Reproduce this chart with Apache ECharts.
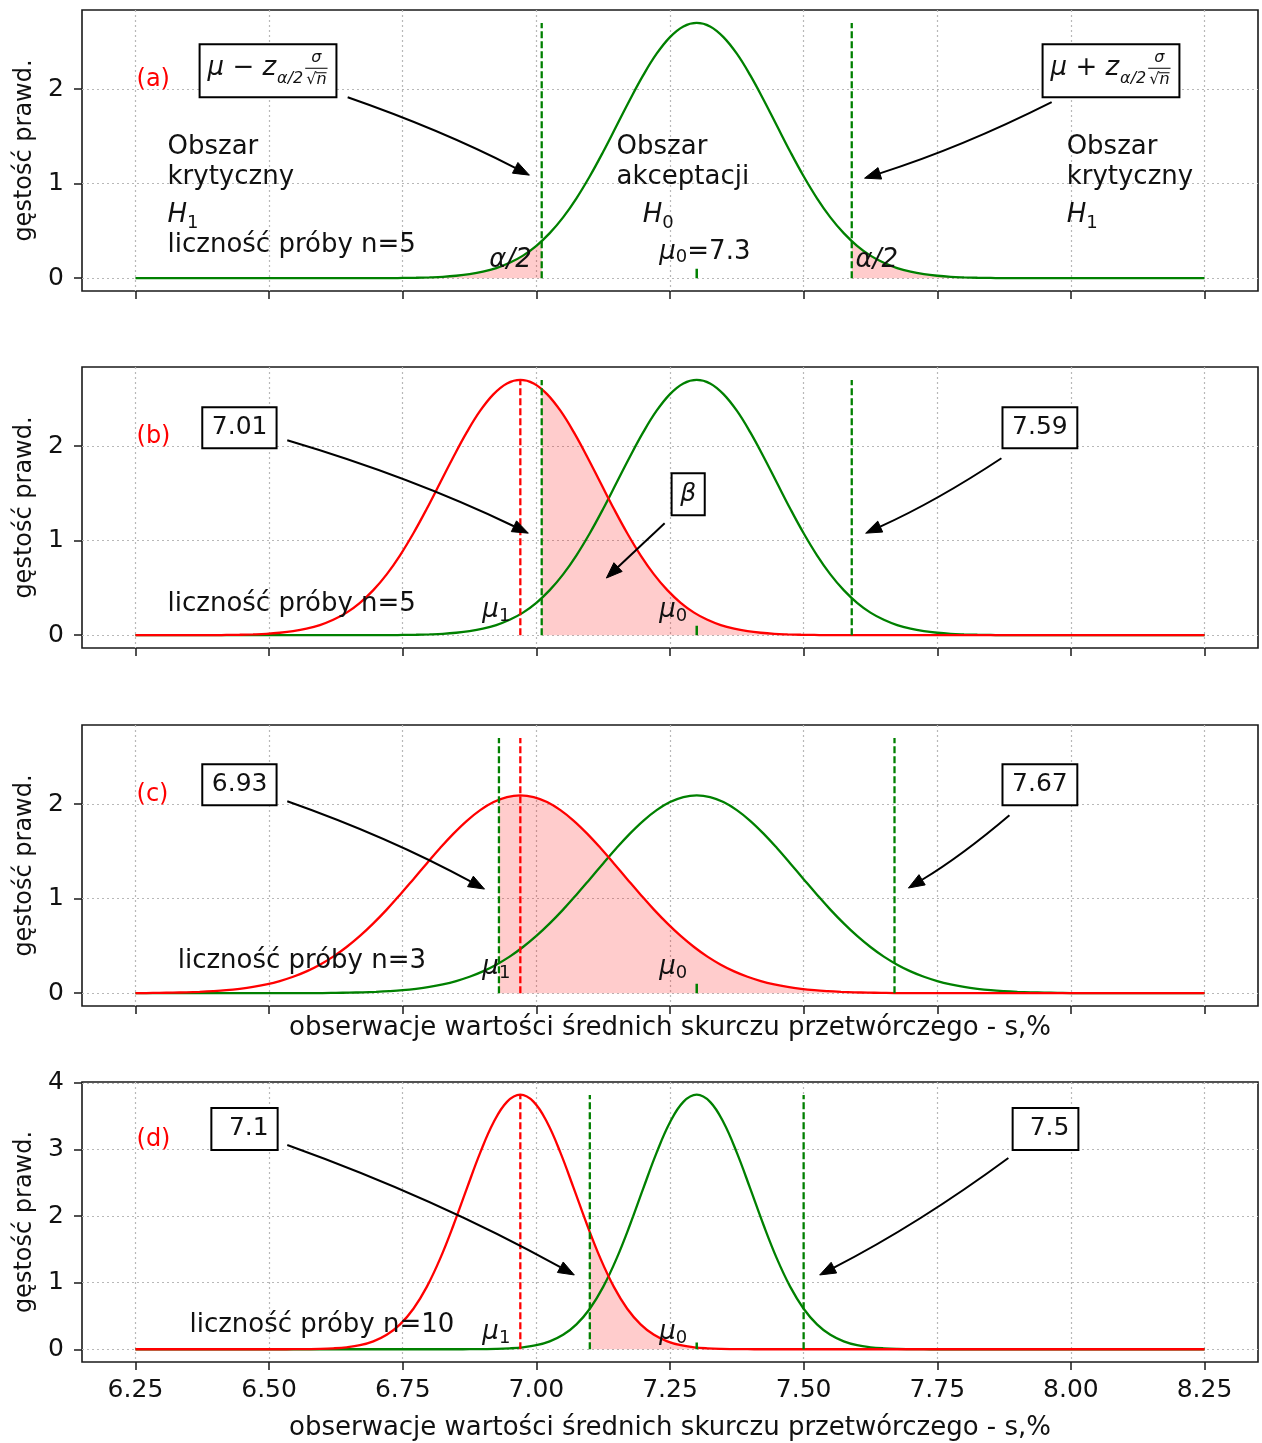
<!DOCTYPE html>
<html><head><meta charset="utf-8">
<script src="https://cdn.jsdelivr.net/npm/echarts@6/dist/echarts.min.js"></script>
<style>html,body{margin:0;padding:0;background:#fff}#c{width:1262px;height:1443px}</style>
</head><body><div id="c"></div>
<script>
// ---------------- data ----------------
const xTicks = [6.25, 6.5, 6.75, 7, 7.25, 7.5, 7.75, 8, 8.25];
const yTicksABC = [0, 1, 2];
const yTicksD = [0, 1, 2, 3, 4];
const mu0 = 7.3;          // H0 mean
const mu1 = 6.97;         // H1 mean
const tailX = [6.25, 8.25];
const offsets = [-0.75,-0.725,-0.7,-0.675,-0.65,-0.625,-0.6,-0.575,-0.55,-0.525,-0.5,-0.475,-0.45,-0.425,-0.4,-0.375,-0.35,-0.325,-0.3,-0.275,-0.25,-0.225,-0.2,-0.175,-0.15,-0.125,-0.1,-0.075,-0.05,-0.025,0,0.025,0.05,0.075,0.1,0.125,0.15,0.175,0.2,0.225,0.25,0.275,0.3,0.325,0.35,0.375,0.4,0.425,0.45,0.475,0.5,0.525,0.55,0.575,0.6,0.625,0.65,0.675,0.7,0.725,0.75];
const dens5 = [0,0,0,0,0,0,0.001,0.001,0.003,0.005,0.009,0.015,0.026,0.043,0.069,0.107,0.163,0.239,0.343,0.477,0.644,0.846,1.079,1.338,1.613,1.889,2.149,2.376,2.552,2.665,2.703,2.665,2.552,2.376,2.149,1.889,1.613,1.338,1.079,0.846,0.644,0.477,0.343,0.239,0.163,0.107,0.069,0.043,0.026,0.015,0.009,0.005,0.003,0.001,0.001,0,0,0,0,0,0];
const dens3 = [0.001,0.002,0.002,0.004,0.006,0.010,0.015,0.022,0.032,0.047,0.067,0.094,0.129,0.174,0.231,0.302,0.387,0.489,0.606,0.739,0.885,1.043,1.207,1.373,1.536,1.689,1.825,1.938,2.023,2.076,2.094,2.076,2.023,1.938,1.825,1.689,1.536,1.373,1.207,1.043,0.885,0.739,0.606,0.489,0.387,0.302,0.231,0.174,0.129,0.094,0.067,0.047,0.032,0.022,0.015,0.010,0.006,0.004,0.002,0.002,0.001];
const dens10 = [0,0,0,0,0,0,0,0,0,0,0,0,0,0.001,0.003,0.006,0.014,0.030,0.061,0.119,0.217,0.374,0.609,0.937,1.361,1.866,2.416,2.953,3.408,3.715,3.823,3.715,3.408,2.953,2.416,1.866,1.361,0.937,0.609,0.374,0.217,0.119,0.061,0.030,0.014,0.006,0.003,0.001,0,0,0,0,0,0,0,0,0,0,0,0,0];
const crit5 = [7.01, 7.59];
const crit3 = [6.93, 7.67];
const crit10 = [7.10, 7.50];
const edgeA = [0.392, 0.392];   // green n=5 density at crit5
const edgeB = [2.606, 0.0004];  // red n=5 density at crit5
const edgeC = [2.048, 0.002];   // red n=3 density at crit3
const edgeD = [1.760, 0];       // red n=10 density at crit10
const vTop = [2.70, 2.70, 2.70, 3.82];
const muTickTop = 0.1;
const boxLabels = [['7.01', '7.59'], ['6.93', '7.67'], ['7.1', '7.5']];
const sampleLabels = ['liczność próby n=5', 'liczność próby n=5', 'liczność próby n=3', 'liczność próby n=10'];

// ---------------- style ----------------
const FONT = 'DejaVu Sans';
const INK = '#111';
const GREEN = '#008000', RED = '#ff0000', FILL = 'rgba(255,0,0,0.2)';
const GRIDC = '#b8b8b8';
const FS = 26;
const gridPos = [[10, 281], [367, 281], [725, 281], [1082, 280]];
const yRange = [[-0.1352, 2.8385], [-0.1352, 2.8385], [-0.1352, 2.8385], [-0.1911, 4.0137]];

const chart = echarts.init(document.getElementById('c'), null, {renderer: 'canvas'});

function curve(mu, dens) {
  const pts = [];
  offsets.forEach((o, k) => {
    const x = +(mu + o).toFixed(4);
    if (x > tailX[0] && x < tailX[1]) pts.push([x, dens[k]]);
  });
  if (pts[0][0] > tailX[0]) pts.unshift([tailX[0], 0]);
  if (pts[pts.length - 1][0] < tailX[1]) pts.push([tailX[1], 0]);
  return pts;
}
function band(pts, x0, y0, x1, y1) {
  return [[x0, y0]].concat(pts.filter(p => p[0] > x0 + 1e-9 && p[0] < x1 - 1e-9), [[x1, y1]]);
}
const green5 = curve(mu0, dens5), red5 = curve(mu1, dens5);
const green3 = curve(mu0, dens3), red3 = curve(mu1, dens3);
const green10 = curve(mu0, dens10), red10 = curve(mu1, dens10);

const series = [];
const SM = 0.4;
function addLine(i, data, color, z) {
  series.push({type: 'line', xAxisIndex: i, yAxisIndex: i, data, symbol: 'none', smooth: SM, z, silent: true,
    lineStyle: {color, width: 2.3}});
}
function addBand(i, data) {
  series.push({type: 'line', xAxisIndex: i, yAxisIndex: i, data, symbol: 'none', smooth: SM, z: 1, silent: true,
    lineStyle: {width: 0, opacity: 0}, areaStyle: {color: FILL, opacity: 1}});
}
function addVLine(i, x, top, color) {
  series.push({type: 'line', xAxisIndex: i, yAxisIndex: i, data: [[x, 0], [x, top]], symbol: 'none', z: 4, silent: true,
    lineStyle: {color, width: 2.3, type: [7, 3]}});
}
function addMuTick(i) {
  series.push({type: 'line', xAxisIndex: i, yAxisIndex: i, data: [[mu0, 0], [mu0, muTickTop]], symbol: 'none', z: 4, silent: true,
    lineStyle: {color: GREEN, width: 2.5}});
}
// (a)
addBand(0, band(green5, tailX[0], 0, crit5[0], edgeA[0]));
addBand(0, band(green5, crit5[1], edgeA[1], tailX[1], 0));
addLine(0, green5, GREEN, 2);
addVLine(0, crit5[0], vTop[0], GREEN); addVLine(0, crit5[1], vTop[0], GREEN); addMuTick(0);
// (b)
addBand(1, band(red5, crit5[0], edgeB[0], crit5[1], edgeB[1]));
addLine(1, green5, GREEN, 2); addLine(1, red5, RED, 3);
addVLine(1, mu1, vTop[1], RED); addVLine(1, crit5[0], vTop[1], GREEN); addVLine(1, crit5[1], vTop[1], GREEN); addMuTick(1);
// (c)
addBand(2, band(red3, crit3[0], edgeC[0], crit3[1], edgeC[1]));
addLine(2, green3, GREEN, 2); addLine(2, red3, RED, 3);
addVLine(2, mu1, vTop[2], RED); addVLine(2, crit3[0], vTop[2], GREEN); addVLine(2, crit3[1], vTop[2], GREEN); addMuTick(2);
// (d)
addBand(3, band(red10, crit10[0], edgeD[0], crit10[1], edgeD[1]));
addLine(3, green10, GREEN, 2); addLine(3, red10, RED, 3);
addVLine(3, mu1, vTop[3], RED); addVLine(3, crit10[0], vTop[3], GREEN); addVLine(3, crit10[1], vTop[3], GREEN); addMuTick(3);

const XNAME = 'obserwacje wartości średnich skurczu przetwórczego - s,%';
const option = {
  animation: false,
  backgroundColor: '#fff',
  textStyle: {fontFamily: FONT},
  grid: gridPos.map(g => ({left: 82, width: 1176, top: g[0], height: g[1], show: true, borderColor: '#1a1a1a', borderWidth: 1.6,
    backgroundColor: 'transparent', containLabel: false, outerBoundsMode: 'none'})),
  xAxis: [0, 1, 2, 3].map(i => ({
    type: 'value', gridIndex: i, min: 6.15, max: 8.35,
    axisLine: {show: false, onZero: false},
    axisTick: {show: true, length: 8, customValues: xTicks, lineStyle: {color: '#1a1a1a', width: 1.5}},
    axisLabel: {show: i === 3, customValues: xTicks, formatter: v => v.toFixed(2), fontFamily: FONT, fontSize: 25, color: INK, margin: 16},
    splitLine: {show: true, lineStyle: {type: [2, 3], color: GRIDC, width: 1.2}},
    name: i >= 2 ? XNAME : '', nameLocation: 'middle', nameGap: i === 2 ? 9 : 53,
    nameTextStyle: {fontFamily: FONT, fontSize: FS, color: INK}
  })),
  yAxis: [0, 1, 2, 3].map(i => ({
    type: 'value', gridIndex: i, min: yRange[i][0], max: yRange[i][1],
    axisLine: {show: false, onZero: false},
    axisTick: {show: true, length: 8, customValues: i < 3 ? yTicksABC : yTicksD, lineStyle: {color: '#1a1a1a', width: 1.5}},
    axisLabel: {customValues: i < 3 ? yTicksABC : yTicksD, fontFamily: FONT, fontSize: 25, color: INK, margin: 18},
    splitLine: {show: true, lineStyle: {type: [2, 3], color: GRIDC, width: 1.2}},
    name: 'gęstość prawd.', nameLocation: 'middle', nameGap: 43,
    nameTextStyle: {fontFamily: FONT, fontSize: 24, color: INK}
  })),
  series
};
chart.setOption(option);

// ---------------- annotations ----------------
const toPx = (i, x, y) => chart.convertToPixel({xAxisIndex: i, yAxisIndex: i}, [x, y]);
const mctx = document.createElement('canvas').getContext('2d');
function tw(text, size, italic) {
  mctx.font = (italic ? 'italic ' : '') + size + 'px "DejaVu Sans"';
  return mctx.measureText(text).width;
}
function txt(x, y, text, o) {
  return {type: 'text', x, y, z: 101, silent: true,
    style: Object.assign({text, fontFamily: FONT, fontSize: FS, fill: INK, textAlign: 'left', align: 'left',
      textVerticalAlign: 'middle', verticalAlign: 'middle'}, o || {})};
}
// run of text parts (for italic symbols & subscripts), left-middle anchored at pixel p
function runPx(px, py, parts, color) {
  let cx = px; const out = [];
  parts.forEach(pt => {
    const size = pt.s || FS;
    out.push(txt(cx, py + (pt.dy || 0), pt.t, {fontSize: size, fontStyle: pt.i ? 'italic' : 'normal', fill: color || INK}));
    cx += tw(pt.t, size, pt.i) + (pt.gap || 0);
  });
  return out;
}
function run(i, x, y, parts, color) { const p = toPx(i, x, y); return runPx(p[0], p[1], parts, color); }
const SUB = 18, SDY = 8;
const H1 = [{t: 'H', i: true}, {t: '1', s: SUB, dy: SDY}];
const H0 = [{t: 'H', i: true}, {t: '0', s: SUB, dy: SDY}];
const M1 = [{t: 'μ', i: true}, {t: '1', s: SUB, dy: 6}];
const M0 = [{t: 'μ', i: true}, {t: '0', s: SUB, dy: 6}];
function T(i, x, y, text, o) { const p = toPx(i, x, y); return txt(p[0], p[1], text, o); }
function boxEl(i, x0, y0, x1, y1) {
  const a = toPx(i, x0, y0), b = toPx(i, x1, y1);
  return {type: 'rect', z: 99, silent: true, shape: {x: a[0], y: a[1], width: b[0] - a[0], height: b[1] - a[1]},
    style: {fill: '#fff', stroke: '#000', lineWidth: 2}};
}
function arrow(i, from, to, f) {
  const p0 = toPx(i, from[0], from[1]), p2 = toPx(i, to[0], to[1]);
  const dx = p2[0] - p0[0], dy = p2[1] - p0[1];
  const c = [(p0[0] + p2[0]) / 2 + f * dy, (p0[1] + p2[1]) / 2 - f * dx];
  let tx = p2[0] - c[0], ty = p2[1] - c[1];
  const tl = Math.hypot(tx, ty); tx /= tl; ty /= tl;
  const L = 16, W = 6;
  const base = [p2[0] - tx * L, p2[1] - ty * L];
  return [
    {type: 'bezierCurve', z: 100, silent: true, shape: {x1: p0[0], y1: p0[1], x2: base[0], y2: base[1], cpx1: c[0], cpy1: c[1]},
      style: {stroke: '#000', lineWidth: 2, fill: 'none'}},
    {type: 'polygon', z: 100, silent: true, shape: {points: [[p2[0], p2[1]], [base[0] - ty * W, base[1] + tx * W], [base[0] + ty * W, base[1] - tx * W]]},
      style: {fill: '#000', stroke: '#000', lineWidth: 1}}
  ];
}
function mathBox(i, x0, y0, x1, y1, sign) {
  const a = toPx(i, x0, y0);
  const bx = a[0], by = a[1];
  const el = [boxEl(i, x0, y0, x1, y1)];
  const parts = [{t: 'μ', i: true}, {t: ' ' + sign + ' '}, {t: 'z', i: true, gap: 1}, {t: 'α/2', i: true, s: 16, dy: 11, gap: 3}];
  el.push(...runPx(bx + 8, by + 24, parts));
  let cx = bx + 8; parts.forEach(pt => { cx += tw(pt.t, pt.s || FS, pt.i) + (pt.gap || 0); });
  const wr = tw('√', 16, false), wn = tw('n', 16, true), fw = wr + wn;
  const fc = cx + fw / 2;
  el.push(txt(fc, by + 14, 'σ', {fontStyle: 'italic', fontSize: 16, textAlign: 'center', align: 'center'}));
  el.push({type: 'line', z: 101, silent: true, shape: {x1: fc - fw / 2 - 1, y1: by + 24, x2: fc + fw / 2 + 1, y2: by + 24}, style: {stroke: '#000', lineWidth: 1}});
  el.push(txt(fc - fw / 2, by + 36, '√', {fontSize: 16}));
  el.push(txt(fc - fw / 2 + wr, by + 36, 'n', {fontSize: 16, fontStyle: 'italic'}));
  el.push({type: 'line', z: 101, silent: true, shape: {x1: fc - fw / 2 + wr - 1, y1: by + 28.5, x2: fc + fw / 2, y2: by + 28.5}, style: {stroke: '#000', lineWidth: 1}});
  return el;
}
function numBox(i, x0, y0, x1, y1, cx, cy, label, italic) {
  return [boxEl(i, x0, y0, x1, y1), T(i, cx, cy, label, {textAlign: 'center', align: 'center', fontSize: 25, fontStyle: italic ? 'italic' : 'normal'})];
}

const els = [];
const tag = (i, y, s) => els.push(T(i, 6.252, y, s, {fill: RED, fontSize: 24}));
// (a)
tag(0, 2.10, '(a)');
els.push(T(0, 6.31, 1.387, 'Obszar'), T(0, 6.31, 1.07, 'krytyczny'), T(0, 6.31, 0.351, sampleLabels[0]));
els.push(...run(0, 6.31, 0.668, H1));
els.push(T(0, 7.15, 1.387, 'Obszar'), T(0, 7.15, 1.07, 'akceptacji'));
els.push(...run(0, 7.199, 0.668, H0));
els.push(...run(0, 7.23, 0.277, [{t: 'μ', i: true}, {t: '0', s: SUB, dy: 5}, {t: '=7.3'}]));
els.push(T(0, 7.992, 1.387, 'Obszar'), T(0, 7.992, 1.07, 'krytyczny'));
els.push(...run(0, 7.992, 0.668, H1));
els.push(T(0, 6.912, 0.192, 'α/2', {fontStyle: 'italic'}), T(0, 7.597, 0.192, 'α/2', {fontStyle: 'italic'}));
els.push(...mathBox(0, 6.370, 2.476, 6.626, 1.915, '−'));
els.push(...mathBox(0, 7.947, 2.476, 8.203, 1.915, '+'));
els.push(...arrow(0, [6.647, 1.915], [6.987, 1.091], 0.035));
els.push(...arrow(0, [7.964, 1.863], [7.614, 1.059], 0.04));
// (b)
tag(1, 2.095, '(b)');
els.push(...numBox(1, 6.375, 2.412, 6.514, 1.979, 6.445, 2.20, boxLabels[0][0]));
els.push(...numBox(1, 7.872, 2.412, 8.012, 1.979, 7.942, 2.20, boxLabels[0][1]));
els.push(...numBox(1, 7.253, 1.714, 7.315, 1.270, 7.284, 1.49, 'β', true));
els.push(...arrow(1, [6.534, 2.063], [6.985, 1.080], 0.04));
els.push(...arrow(1, [7.870, 1.873], [7.616, 1.080], 0.04));
els.push(...arrow(1, [7.240, 1.186], [7.131, 0.605], 0.0));
els.push(T(1, 6.31, 0.33, sampleLabels[1]));
els.push(...run(1, 6.899, 0.266, M1), ...run(1, 7.23, 0.266, M0));
// (c)
tag(2, 2.095, '(c)');
els.push(...numBox(2, 6.375, 2.423, 6.514, 1.989, 6.445, 2.21, boxLabels[1][0]));
els.push(...numBox(2, 7.872, 2.423, 8.012, 1.989, 7.942, 2.21, boxLabels[1][1]));
els.push(...arrow(2, [6.534, 2.032], [6.903, 1.102], 0.04));
els.push(...arrow(2, [7.885, 1.884], [7.696, 1.113], 0.04));
els.push(T(2, 6.329, 0.34, sampleLabels[2]));
els.push(...run(2, 6.899, 0.277, M1), ...run(2, 7.23, 0.277, M0));
// (d)
tag(3, 3.143, '(d)');
els.push(...numBox(3, 6.392, 3.623, 6.516, 2.992, 6.462, 3.31, boxLabels[2][0]));
els.push(...numBox(3, 7.891, 3.623, 8.014, 2.992, 7.960, 3.31, boxLabels[2][1]));
els.push(...arrow(3, [6.534, 3.067], [7.071, 1.116], 0.04));
els.push(...arrow(3, [7.883, 2.872], [7.530, 1.116], 0.04));
els.push(T(3, 6.351, 0.365, sampleLabels[3]));
els.push(...run(3, 6.899, 0.26, M1), ...run(3, 7.23, 0.26, M0));

chart.setOption({graphic: {elements: els}});
</script></body></html>
